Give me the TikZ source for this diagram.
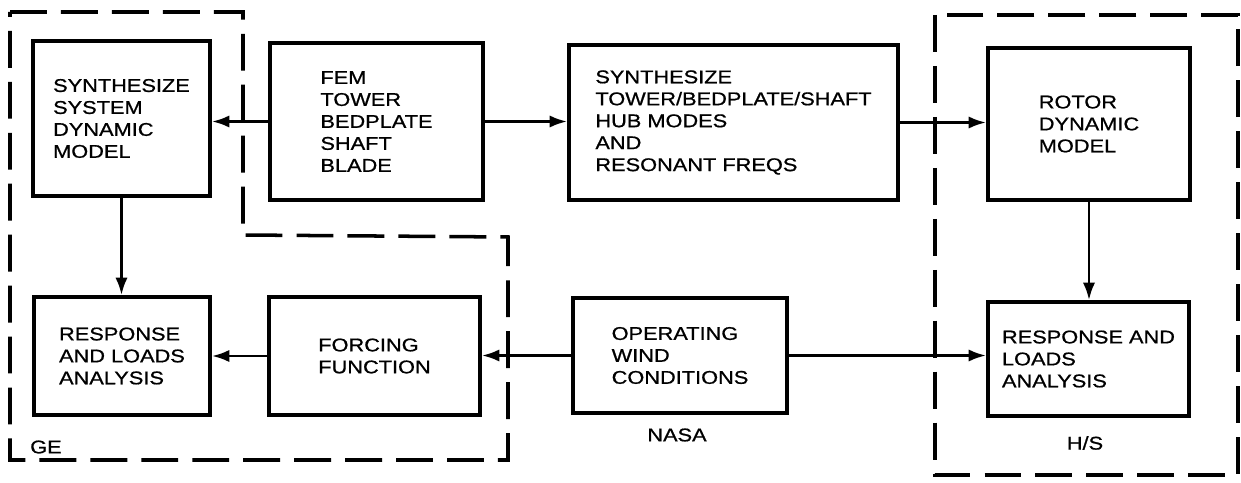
\documentclass[tikz,border=0pt]{standalone}
\usepackage{fontspec}
\setmainfont{Liberation Sans}[FakeStretch=1.18,FakeBold=0.8]
\usepackage{tikz}
\usetikzlibrary{positioning,arrows.meta}

\begin{document}
\begin{tikzpicture}[x=0.02cm,y=-0.02cm,>={Latex[length=10pt,width=7pt]},
    every node/.style={font=\fontsize{10.5}{12.5}\selectfont},
    block/.style={draw,line width=2.1pt,align=left,inner sep=0pt},
    flow/.style={->,line width=1.6pt},
    group/.style={dashed,line width=2pt,dash pattern=on 21pt off 8pt}]
  \useasboundingbox (0,0) rectangle (1241,483);
  % upper row
  \node[block,minimum width=3.54cm,minimum height=3.1cm] (sys) at (121.5,118.5)
    {SYNTHESIZE\\SYSTEM\\DYNAMIC\\MODEL};
  \node[block,minimum width=4.26cm,minimum height=3.14cm] (fem) at (376.5,121.5)
    {FEM\\TOWER\\BEDPLATE\\SHAFT\\BLADE};
  \node[block,minimum width=6.58cm,minimum height=3.1cm] (synth) at (733.5,122.5)
    {SYNTHESIZE\\TOWER/BEDPLATE/SHAFT\\HUB MODES\\AND\\RESONANT FREQS};
  \node[block,minimum width=4.04cm,minimum height=3.04cm] (rotor) at (1089,124)
    {ROTOR\\DYNAMIC\\MODEL};
  % lower row
  \node[block,minimum width=3.52cm,minimum height=2.36cm] (respge) at (122,356)
    {RESPONSE\\AND LOADS\\ANALYSIS};
  \node[block,minimum width=4.22cm,minimum height=2.36cm] (forcing) at (374.5,356)
    {FORCING\\FUNCTION};
  \node[block,minimum width=4.28cm,minimum height=2.3cm] (wind) at (680,355.5)
    {OPERATING\\WIND\\CONDITIONS};
  \node[block,minimum width=4.02cm,minimum height=2.28cm] (resphs) at (1088.5,359)
    {RESPONSE AND\\LOADS\\ANALYSIS};
  % group labels
  \node[anchor=west] (ge) at (24,447) {GE};
  \node (nasa) at (677,435) {NASA};
  \node (hs) at (1085,443) {H/S};
  % dashed groups
  \draw[group] (10,12) -- (243,12) -- (243,235) -- (508,237) -- (508,460) -- (10,460) -- cycle;
  \draw[group] (935,15) rectangle (1238,475);
  % connectors
  \draw[flow] (fem.west) -- (sys.east |- fem.west);
  \draw[flow] (fem.east) -- (synth.west |- fem.east);
  \draw[flow] (synth.east) -- (rotor.west |- synth.east);
  \draw[flow] (sys.south) -- (sys.south |- respge.north);
  \draw[flow] (rotor.south) -- (rotor.south |- resphs.north);
  \draw[flow] (forcing.west) -- (respge.east |- forcing.west);
  \draw[flow] (wind.west) -- (forcing.east |- wind.west);
  \draw[flow] (wind.east) -- (resphs.west |- wind.east);
\end{tikzpicture}
\end{document}
